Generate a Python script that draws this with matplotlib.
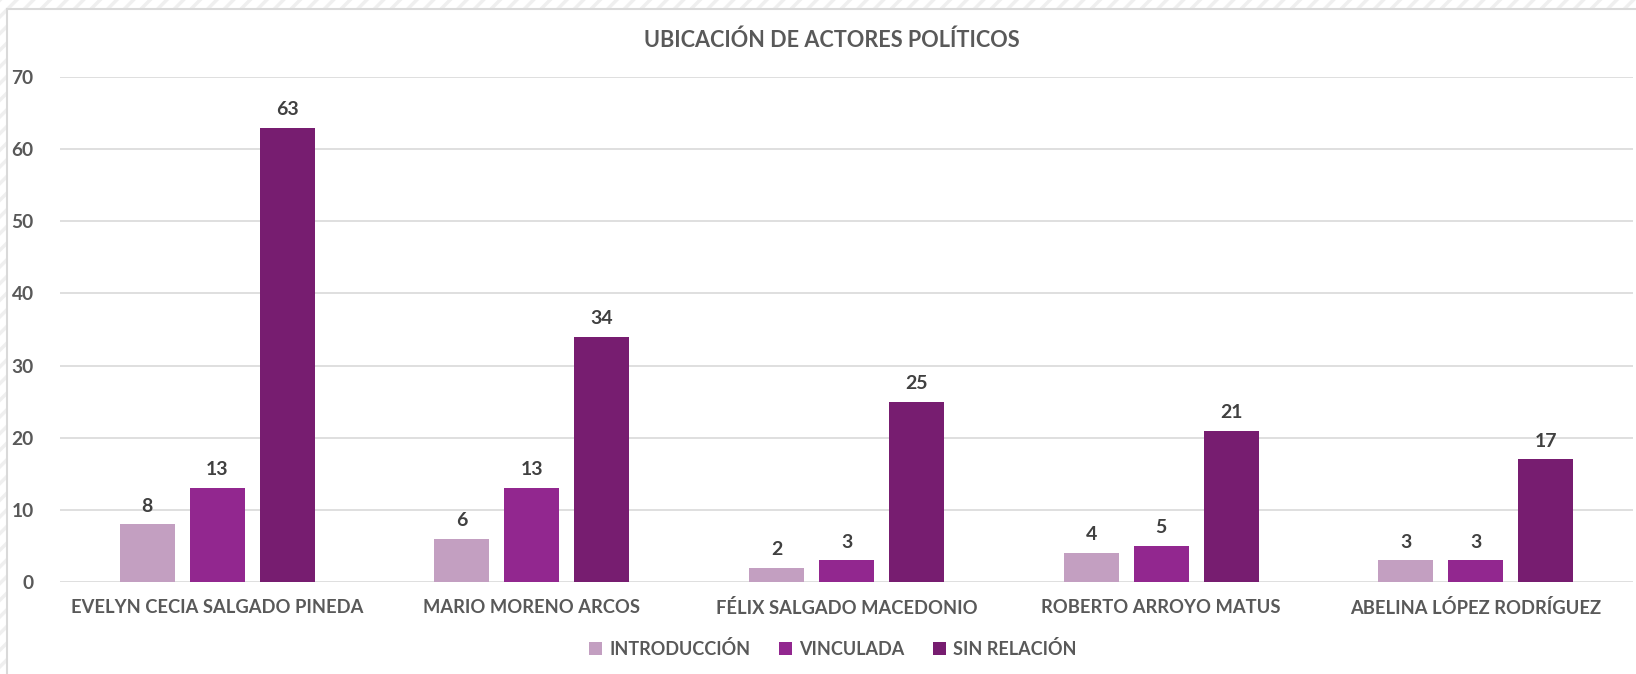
import matplotlib.pyplot as plt
from matplotlib.patches import Rectangle
import numpy as np

# --- DATA ---
categories = ["EVELYN CECIA SALGADO PINEDA", "MARIO MORENO ARCOS", "FÉLIX SALGADO MACEDONIO",
              "ROBERTO ARROYO MATUS", "ABELINA LÓPEZ RODRÍGUEZ"]
series_names = ["INTRODUCCIÓN", "VINCULADA", "SIN RELACIÓN"]
introduccion = [8, 6, 2, 4, 3]
vinculada = [13, 13, 3, 5, 3]
sin_relacion = [63, 34, 25, 21, 17]
y_ticks = [0, 10, 20, 30, 40, 50, 60, 70]

colors = ["#C39FC1", "#92278F", "#771D70"]
TEXT = "#595959"
LABEL = "#404040"

plt.rcParams['font.family'] = ['Lato', 'DejaVu Sans']
plt.rcParams['hatch.linewidth'] = 2.5

W, H = 1636, 674
fig = plt.figure(figsize=(W / 100, H / 100), dpi=100)

# hatched chart-area border, white inner area
fig.patches.append(Rectangle((0, 0), 1, 1, transform=fig.transFigure, facecolor="white",
                             edgecolor="#EFEFEF", hatch="//", linewidth=0, zorder=-3))
fig.patches.append(Rectangle((7 / W, -0.01), 1, 1 - 9 / H + 0.01, transform=fig.transFigure,
                             facecolor="white", edgecolor="#D9D9D9", linewidth=1.5, zorder=-2))

ax = fig.add_axes([60 / W, 1 - 582 / H, (1633 - 60) / W, (582 - 77) / H])
ax.set_facecolor("none")

x = np.arange(len(categories))
step = 70 / 314.6
width = 55 / 314.6
for i, (name, vals) in enumerate(zip(series_names, [introduccion, vinculada, sin_relacion])):
    pos = x + (i - 1) * step
    bars = ax.bar(pos, vals, width, color=colors[i], label=name, zorder=3)
    for b, v in zip(bars, vals):
        ax.annotate(str(v), (b.get_x() + b.get_width() / 2, v), xytext=(0, 7),
                    textcoords="offset points", ha="center", va="bottom",
                    fontsize=14, fontweight="bold", color=LABEL)

ax.set_xlim(-0.5, len(categories) - 0.5)
ax.set_ylim(0, 70)
ax.set_yticks(y_ticks)
ax.set_xticks(x)
ax.set_xticklabels(categories)
ax.grid(axis="y", color="#D9D9D9", linewidth=1.2, zorder=0)
for s in ax.spines.values():
    s.set_visible(False)
ax.tick_params(axis="both", length=0, colors=TEXT, labelsize=13.2)
ax.tick_params(axis="y", labelsize=13.8, pad=19)
ax.tick_params(axis="x", pad=12)
for t in ax.get_xticklabels() + ax.get_yticklabels():
    t.set_fontweight("bold")

fig.text(832 / W, 1 - 40 / H, "UBICACIÓN DE ACTORES POLÍTICOS", ha="center", va="center",
         fontsize=15.6, fontweight="bold", color=TEXT)

leg = fig.legend(loc="center", bbox_to_anchor=(833 / W, 1 - 649 / H), ncol=3, frameon=False,
                 fontsize=13, handlelength=0.7, handleheight=0.7, handletextpad=0.4,
                 columnspacing=1.6)
for t in leg.get_texts():
    t.set_color(TEXT)
    t.set_fontweight("bold")

fig.savefig("out.png", dpi=100)
